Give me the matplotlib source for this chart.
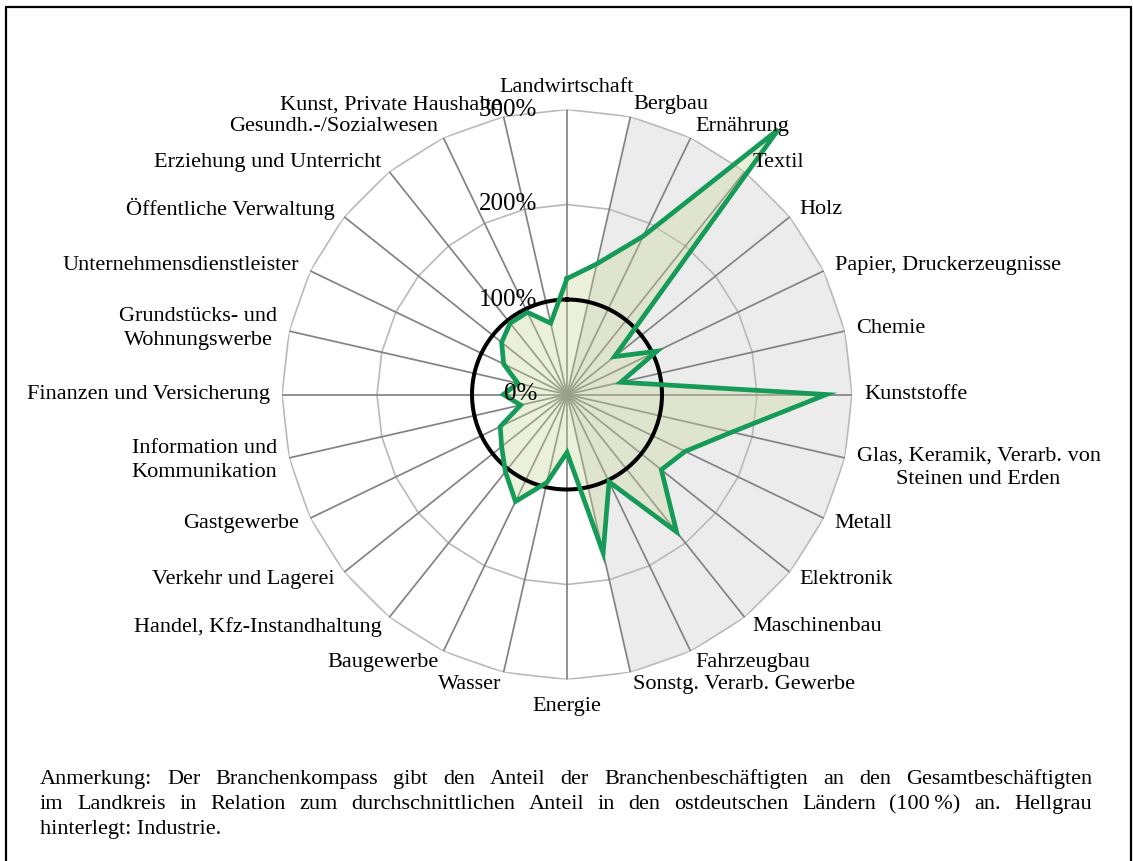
import numpy as np
import matplotlib.pyplot as plt
from matplotlib.lines import Line2D

plt.rcParams['font.family'] = ['Liberation Serif', 'DejaVu Serif']

# Branchen im Uhrzeigersinn, beginnend oben
branchen = [
    'Landwirtschaft', 'Bergbau', 'Ernährung', 'Textil', 'Holz',
    'Papier, Druckerzeugnisse', 'Chemie', 'Kunststoffe',
    'Glas, Keramik, Verarb. von\nSteinen und Erden', 'Metall', 'Elektronik',
    'Maschinenbau', 'Fahrzeugbau', 'Sonstg. Verarb. Gewerbe', 'Energie',
    'Wasser', 'Baugewerbe', 'Handel, Kfz-Instandhaltung',
    'Verkehr und Lagerei', 'Gastgewerbe', 'Information und\nKommunikation',
    'Finanzen und Versicherung', 'Grundstücks- und\nWohnungswerbe',
    'Unternehmensdienstleister', 'Öffentliche Verwaltung',
    'Erziehung und Unterricht', 'Gesundh.-/Sozialwesen',
    'Kunst, Private Haushalte',
]
# Anteil relativ zum ostdeutschen Durchschnitt (in %)
werte = [122, 141, 185, 357, 64, 105, 58, 273, 178, 138, 127, 185, 102, 171,
         61, 95, 125, 104, 88, 78, 50, 67, 53, 74, 88, 96, 96, 77]
# Industrie: Bergbau bis Sonstg. Verarb. Gewerbe
industrie = list(range(1, 14))
ringe = [100, 200, 300]
ring_labels = ['0%', '100%', '200%', '300%']
ring_werte = [0, 100, 200, 300]

anmerkung = [
    'Anmerkung: Der Branchenkompass gibt den Anteil der Branchenbeschäftigten an den Gesamtbeschäftigten',
    'im Landkreis in Relation zum durchschnittlichen Anteil in den ostdeutschen Ländern (100\u2009%) an. Hellgrau',
    'hinterlegt: Industrie.',
]

W, H = 1133, 861
fig = plt.figure(figsize=(W / 100, H / 100), dpi=100)

cx, cy, R = 567, 394.5, 285
ax = fig.add_axes([(cx - R) / W, (H - cy - R) / H, 2 * R / W, 2 * R / H],
                  projection='polar')
ax.set_theta_zero_location('N')
ax.set_theta_direction(-1)
ax.set_ylim(0, 300)
ax.set_xticks([])
ax.set_yticks([])
ax.grid(False)
ax.spines['polar'].set_visible(False)

n = len(branchen)
theta = np.arange(n) * 2 * np.pi / n
theta_zu = np.append(theta, theta[0])

# hellgrau hinterlegte Industrie
ind_theta = [theta[industrie[0]]] + [theta[i] for i in industrie] + [theta[industrie[-1]]]
ind_r = [0] + [300] * len(industrie) + [0]
ax.fill(ind_theta, ind_r, color='#ececec', lw=0, zorder=0)

# Ringe und Speichen
for r in ringe:
    ax.plot(theta_zu, [r] * (n + 1), color='#b9b9b9', lw=1.2, zorder=1)
for t in theta:
    ax.plot([t, t], [0, 300], color='#838383', lw=1.25, zorder=2)

# Datenfläche
werte_zu = werte + werte[:1]
ax.fill(theta_zu, werte_zu, facecolor='#c8d69a', alpha=0.36, lw=0,
        zorder=3, clip_on=False)
ax.plot(theta_zu, werte_zu, color='#169a58', lw=3.4, zorder=5,
        clip_on=False, solid_joinstyle='miter')

# 100%-Linie
kreis = np.linspace(0, 2 * np.pi, 361)
ax.plot(kreis, [100] * len(kreis), color='black', lw=2.9, zorder=4)

# Beschriftung der Branchen
for t, name in zip(theta, branchen):
    s, c = np.sin(t), np.cos(t)
    if abs(s) < 0.01:
        ha = 'center'
        va = 'bottom' if c > 0 else 'top'
        off = (0, 12 if c > 0 else -17)
    else:
        ha = 'left' if s > 0 else 'right'
        va = 'center'
        off = (12 * s, 12 * c)
        if '\n' in name and s > 0:
            off = (12 * s, 12 * c - 7)
    ax.annotate(name, xy=(t, 300), xytext=off, textcoords='offset pixels',
                ha=ha, va=va, multialignment='center', fontsize=16,
                linespacing=1.3, annotation_clip=False, zorder=6)

# Skalenbeschriftung
for r, lab in zip(ring_werte, ring_labels):
    ax.annotate(lab, xy=(0, r), xytext=(-30, 0), textcoords='offset pixels',
                ha='right', va='center', fontsize=18, annotation_clip=False,
                zorder=7)

# Rahmen
x0, x1 = 6 / W, 1131 / W
y_oben = 1 - 7 / H
fig.add_artist(Line2D([x0, x0, x1, x1], [-0.01, y_oben, y_oben, -0.01],
                      color='black', lw=1.6))

# Anmerkung im Blocksatz
renderer = fig.canvas.get_renderer()
links, rechts = 40, 1092
for k, zeile in enumerate(anmerkung):
    y = 1 - (784 + 25 * k) / H
    if k == len(anmerkung) - 1:
        fig.text(links / W, y, zeile, fontsize=16, va='baseline')
        continue
    woerter = zeile.split(' ')
    texte = [fig.text(0, y, w, fontsize=16, va='baseline') for w in woerter]
    breiten = [tx.get_window_extent(renderer).width for tx in texte]
    luecke = (rechts - links - sum(breiten)) / (len(woerter) - 1)
    x = links
    for tx, b in zip(texte, breiten):
        tx.set_x(x / W)
        x += b + luecke

fig.savefig('out.png', dpi=100)
